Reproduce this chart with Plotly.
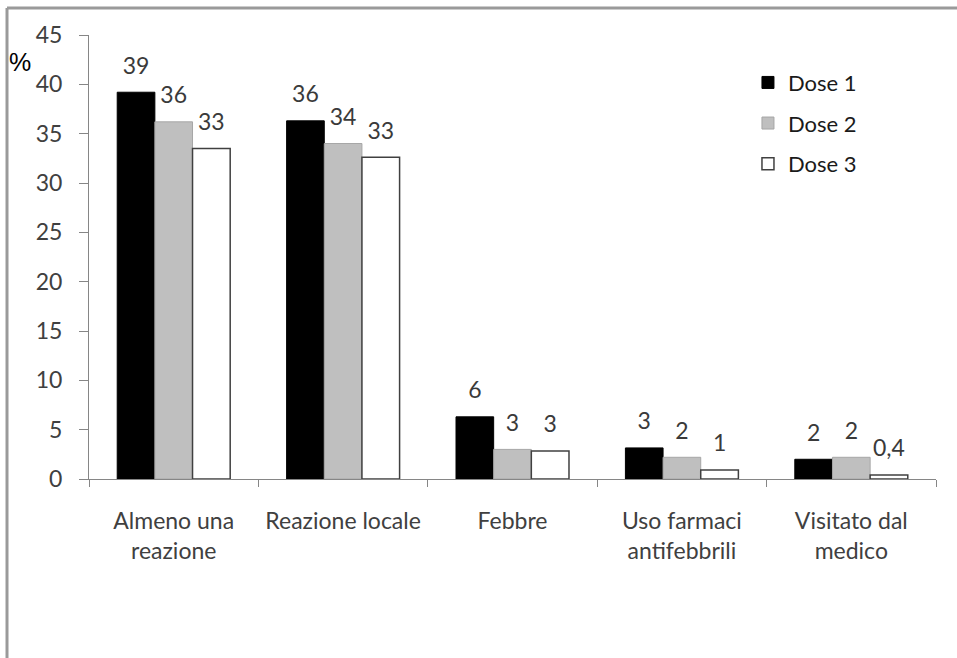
import plotly.graph_objects as go

categories = ["Almeno una<br>reazione", "Reazione locale", "Febbre", "Uso farmaci<br>antifebbrili", "Visitato dal<br>medico"]
series_names = ["Dose 1", "Dose 2", "Dose 3"]
dose1 = [39.2, 36.3, 6.3, 3.15, 2.0]
dose2 = [36.2, 34.0, 3.0, 2.2, 2.2]
dose3 = [33.5, 32.6, 2.85, 0.9, 0.4]
labels1 = ["39", "36", "6", "3", "2"]
labels2 = ["36", "34", "3", "2", "2"]
labels3 = ["33", "33", "3", "1", "0,4"]
y_ticks = [0, 5, 10, 15, 20, 25, 30, 35, 40, 45]

values = [dose1, dose2, dose3]
labels = [labels1, labels2, labels3]
fills = ["#000000", "#BFBFBF", "#FFFFFF"]
lines = ["#000000", "#A6A6A6", "#404040"]
lwidths = [1, 1, 1.5]

FONT = "Lato"
fig = go.Figure()
for i in range(3):
    fig.add_trace(go.Bar(
        x=categories, y=values[i], name=series_names[i],
        marker=dict(color=fills[i], line=dict(color=lines[i], width=lwidths[i])),
        offsetgroup=str(i), legendgroup=str(i), hoverinfo="skip",
    ))
for i in range(3):
    fig.add_trace(go.Scatter(
        x=categories, y=values[i], mode="markers+text", text=labels[i],
        textposition="top center",
        textfont=dict(family=FONT, size=23, color="#3A3A3A"),
        marker=dict(size=19, opacity=0),
        offsetgroup=str(i), showlegend=False, hoverinfo="skip", cliponaxis=False,
    ))

frame = "#9A9A9A"
fig.update_layout(
    width=957, height=658,
    margin=dict(l=89, r=21, t=35, b=179, autoexpand=False),
    plot_bgcolor="white", paper_bgcolor="white",
    barmode="group", bargap=0.333, bargroupgap=0,
    scattermode="group", scattergap=0.333,
    font=dict(family=FONT, size=22, color="#404040"),
    legend=dict(x=0.778, y=0.94, xanchor="left", yanchor="top",
                font=dict(family=FONT, size=22, color="#1A1A1A"),
                tracegroupgap=9, bgcolor="rgba(0,0,0,0)", itemwidth=30),
    xaxis=dict(showline=True, linecolor="#868686", linewidth=1, automargin=False,
               ticks="outside", tickson="boundaries", ticklen=7, tickcolor="#868686",
               showgrid=False, tickangle=0, tickfont=dict(family=FONT, size=23, color="#404040"),
               ticklabelstandoff=21),
    yaxis=dict(range=[0, 45], tickvals=y_ticks, showline=True, linecolor="#868686", linewidth=1,
               automargin=False,
               ticks="outside", ticklen=9, tickcolor="#868686", showgrid=False, zeroline=False,
               tickfont=dict(family=FONT, size=23, color="#404040"), ticklabelstandoff=12),
    showlegend=True,
    annotations=[dict(text="%", xref="paper", yref="paper", x=-0.0815, y=0.939,
                      xanchor="center", yanchor="middle",
                      showarrow=False, font=dict(family="Liberation Sans", size=25, color="#000000"))],
    shapes=[
        dict(type="line", xref="paper", yref="paper", x0=-0.0968, x1=1.03, y0=1.0608, y1=1.0608,
             line=dict(color=frame, width=3)),
        dict(type="line", xref="paper", yref="paper", x0=-0.0968, x1=-0.0968, y0=1.0608, y1=-0.41,
             line=dict(color=frame, width=3)),
    ],
)
fig.write_html("out.html")
